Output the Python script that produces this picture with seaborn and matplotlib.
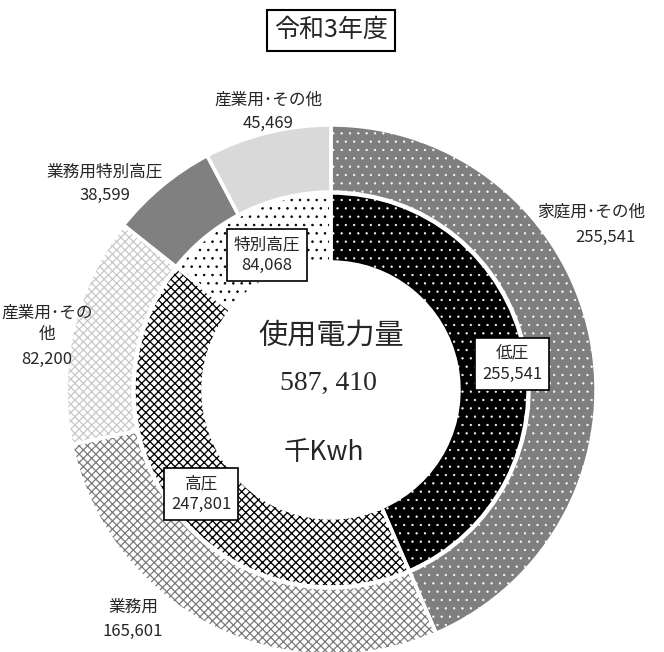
"""
Donut chart: electricity usage by contract type (令和3年度)
"""

import matplotlib
matplotlib.use("Agg")
import matplotlib.pyplot as plt
import seaborn as sns

# inner ring: voltage class
inner_labels = ["低圧", "高圧", "特別高圧"]
inner_values = [255541, 247801, 84068]

# outer ring: usage breakdown
outer_labels = ["家庭用･その他", "業務用", "産業用･その\n他", "業務用特別高圧", "産業用･その他"]
outer_values = [255541, 165601, 82200, 38599, 45469]

title = "令和3年度"
center_title = "使用電力量"
center_total = "587, 410"
center_unit = "千Kwh"

sns.set_theme(style="white")
plt.rcParams["font.family"] = ["Noto Sans CJK JP", "DejaVu Sans"]
plt.rcParams["hatch.linewidth"] = 1.0

W, H = 664, 652
fig = plt.figure(figsize=(W / 100, H / 100), dpi=100)
ax = fig.add_axes([0, 0, 1, 1])

cx, cy = 331, H - 390

# (facecolor, hatch colour, hatch, hatch linewidth)
inner_style = [("black", "white", "..", 0.4),
               ("white", "black", "xxxx", 0.95),
               ("white", "black", "..", 0.6)]
outer_style = [("#7f7f7f", "white", "..", 0.4),
               ("white", "#7a7a7a", "xxxx", 0.9),
               ("white", "#c8c8c8", "xxxx", 0.9),
               ("#808080", "#808080", None, 1.0),
               ("#d9d9d9", "#d9d9d9", None, 1.0)]


def ring(values, radius, width, styles):
    wedges, _ = ax.pie(values, radius=radius, center=(cx, cy), startangle=90,
                       counterclock=False, wedgeprops=dict(width=width, linewidth=0))
    for w, (fc, hc, hatch, hlw) in zip(wedges, styles):
        w.set_facecolor(fc)
        w.set_edgecolor(hc)
        w.set_linewidth(0)
        if hatch:
            w.set_hatch(hatch)
            if hasattr(w, "set_hatch_linewidth"):
                w.set_hatch_linewidth(hlw)
    # white separators drawn on top
    ax.pie(values, radius=radius, center=(cx, cy), startangle=90, counterclock=False,
           wedgeprops=dict(width=width, facecolor="none", edgecolor="white", linewidth=2.5))


ring(outer_values, 265, 67, outer_style)
ring(inner_values, 197, 69, inner_style)

ax.set_xlim(0, W)
ax.set_ylim(0, H)
ax.set_aspect("equal")
ax.axis("off")

# title box
ax.text(331, H - 30, title, ha="center", va="center", fontsize=18,
        bbox=dict(boxstyle="square,pad=0.3", facecolor="white", edgecolor="black", linewidth=1.5))

# centre text
ax.text(331, H - 336, center_title, ha="center", va="center", fontsize=21)
ax.text(328, H - 383, center_total, ha="center", va="center", fontsize=20,
        family="Liberation Serif")
ax.text(324, H - 452, center_unit, ha="center", va="center", fontsize=19)

# inner labels (boxed)
inner_pos = [(512, 364), (201, 494), (267, 255)]
for lab, val, (x, y) in zip(inner_labels, inner_values, inner_pos):
    ax.text(x, H - y, f"{lab}\n{val:,}", ha="center", va="center", fontsize=12,
            linespacing=1.3,
            bbox=dict(boxstyle="square,pad=0.4", facecolor="white", edgecolor="black",
                      linewidth=1.2))

# outer labels: name, then value below
outer_name_pos = [(591, 212), (133, 607), (47, 324), (105, 172), (268, 100)]
outer_val_pos = [(605, 237), (133, 631), (47, 359), (105, 195), (268, 123)]
for lab, val, (x1, y1), (x2, y2) in zip(outer_labels, outer_values, outer_name_pos, outer_val_pos):
    ax.text(x1, H - y1, lab, ha="center", va="center", fontsize=12, linespacing=1.3)
    ax.text(x2, H - y2, f"{val:,}", ha="center", va="center", fontsize=12)

fig.savefig("out.png", dpi=100)
plt.close(fig)
